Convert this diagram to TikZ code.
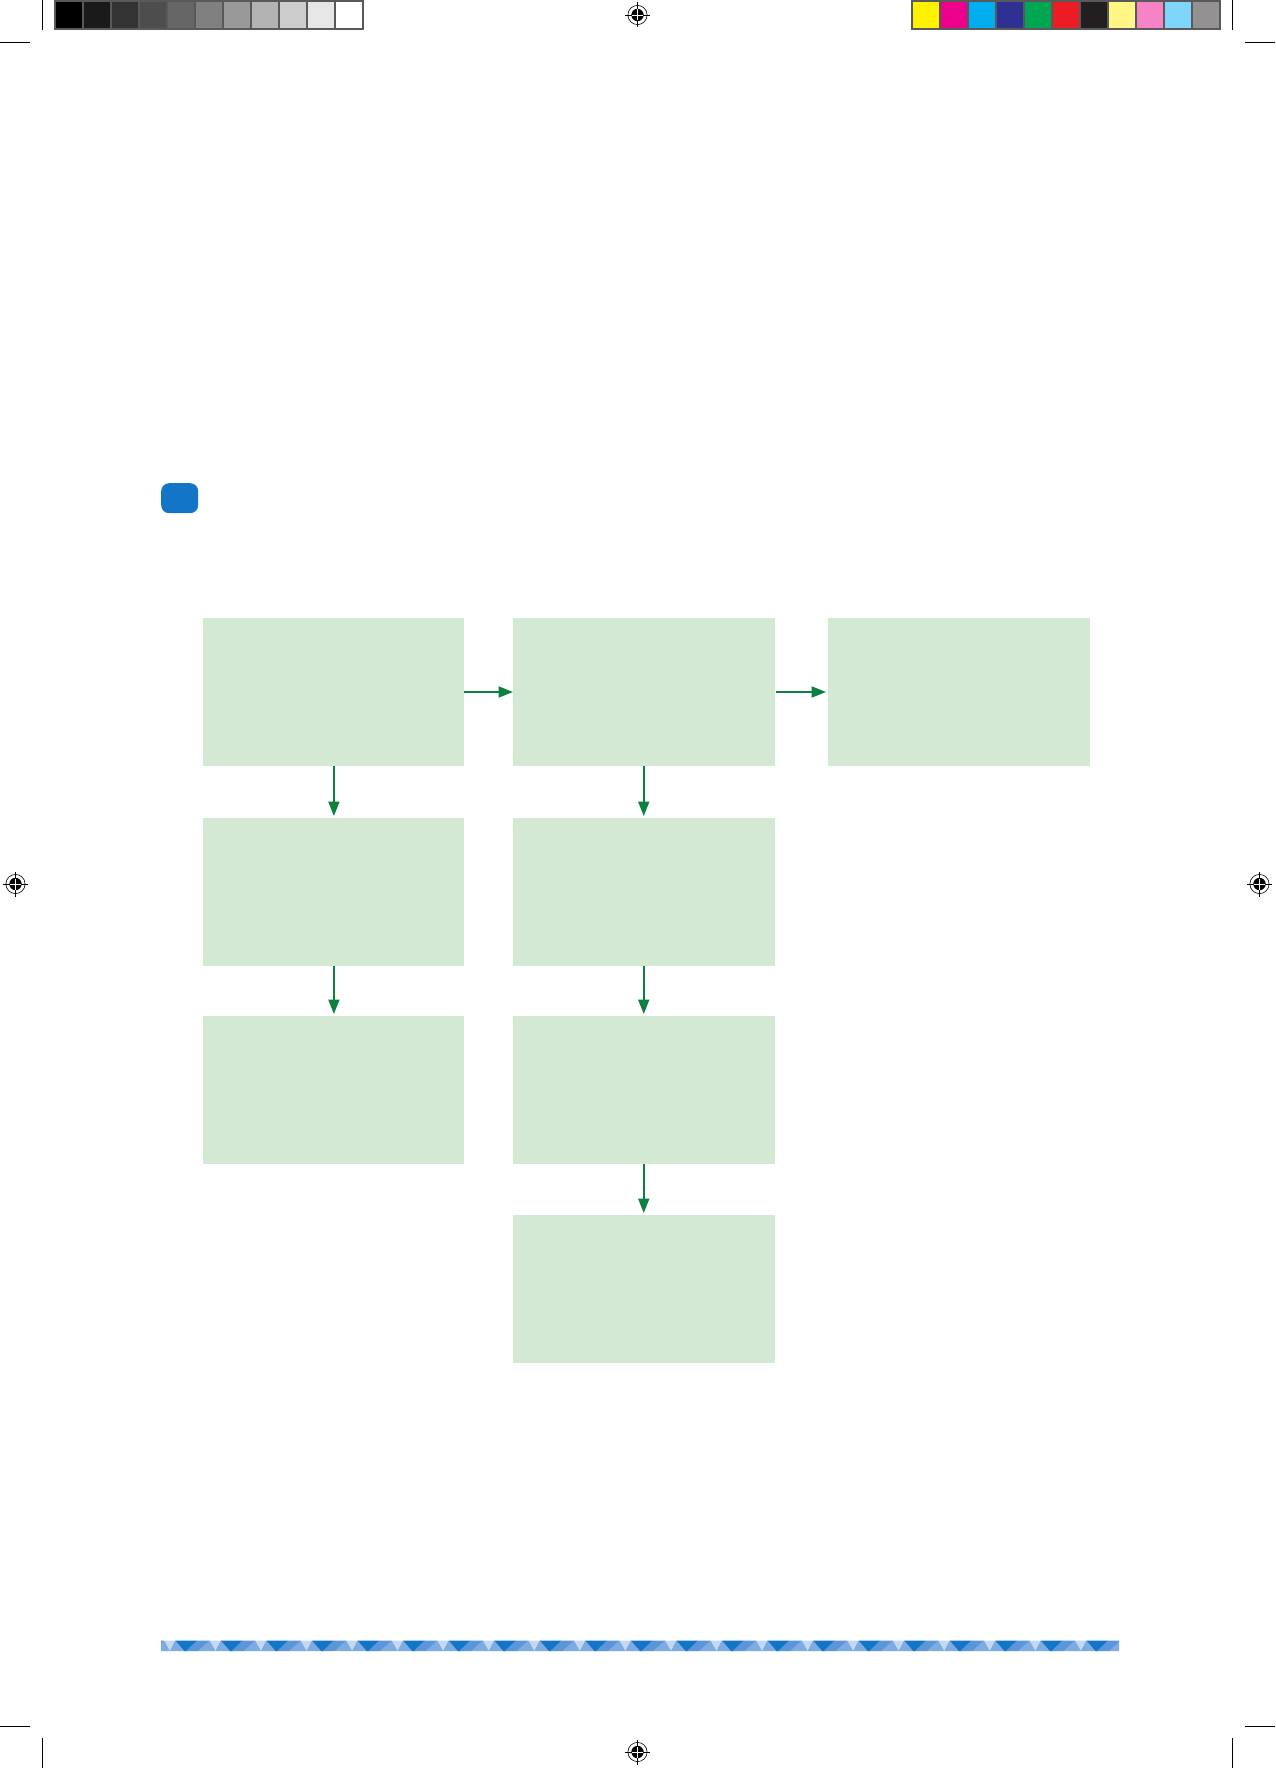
\documentclass[tikz,border=0pt]{standalone}
\usetikzlibrary{arrows.meta}
\definecolor{boxgreen}{HTML}{D4E9D3}
\definecolor{arrowgreen}{HTML}{0B8040}
\definecolor{framegray}{HTML}{58595B}
\definecolor{stripdark}{HTML}{1375C6}
\definecolor{stripmed}{HTML}{5B96D9}
\definecolor{striplight}{HTML}{7DABE2}
\definecolor{strippale}{HTML}{C5D8F2}
\tikzset{
  flowbox/.style={fill=boxgreen,draw=none,inner sep=0pt,outer sep=0pt,anchor=north west,minimum width=261.5pt,minimum height=148pt},
  leftbox/.style={flowbox,minimum width=260.6pt},
  flowarrow/.style={draw=arrowgreen,line width=1.9pt,-{Triangle[length=14.5pt,width=11pt,fill=arrowgreen]}},
  crop/.style={draw=black,line width=0.8pt},
  regmark/.pic={
    \draw[black,line width=0.6pt] (0,0) circle[radius=9.6];
    \fill[black] (0,0) circle[radius=6.2];
    \draw[black,line width=0.9pt] (-12.5,0) -- (12.5,0) (0,-12.5) -- (0,12.5);
    \draw[white,line width=0.3pt] (-5.5,0) -- (5.5,0) (0,-5.5) -- (0,5.5);
  }
}
\begin{document}
\begin{tikzpicture}[x=1pt,y=-1pt]
\useasboundingbox (0,0) rectangle (1276,1769);
\fill[white] (0,0) rectangle (1276,1769);
% grey ramp
\fill[framegray] (54,0) rectangle (364,30);
\foreach \i/\c in {0/000000,1/1A1A1A,2/333333,3/4D4D4D,4/666666,5/808080,6/999999,7/B3B3B3,8/CCCCCC,9/E6E6E6,10/FFFFFF}{
  \definecolor{swatch}{HTML}{\c}
  \fill[swatch] ({56+28*\i},2) rectangle ({82+28*\i},28);
}
% colour bar
\fill[framegray] (911,0) rectangle (1221,30);
\foreach \i/\c in {0/FFF200,1/EC008C,2/00AEEF,3/2E3192,4/00A651,5/ED1C24,6/231F20,7/FFF685,8/F683C6,9/7FD6FA,10/939191}{
  \definecolor{swatch}{HTML}{\c}
  \fill[swatch] ({913+28*\i},2) rectangle ({939+28*\i},28);
}
% crop marks
\draw[crop] (42.5,0) -- (42.5,30);
\draw[crop] (0,42.5) -- (30,42.5);
\draw[crop] (1232.5,0) -- (1232.5,30);
\draw[crop] (1245,42.5) -- (1275,42.5);
\draw[crop] (0,1726.5) -- (30,1726.5);
\draw[crop] (42.5,1738) -- (42.5,1768);
\draw[crop] (1245,1726.5) -- (1275,1726.5);
\draw[crop] (1232.5,1738) -- (1232.5,1768);
% registration marks
\pic at (637.5,15) {regmark};
\pic at (15.5,884) {regmark};
\pic at (1259.5,884) {regmark};
\pic at (637.5,1752) {regmark};
% blue tag
\node[fill=stripdark,draw=none,rounded corners=8pt,inner sep=0pt,minimum width=37pt,minimum height=30pt,anchor=north west] (tag) at (161,483) {};
% flow boxes
\node[leftbox] (a1) at (203,618) {};
\node[leftbox] (a2) at (203,818) {};
\node[leftbox] (a3) at (203,1016) {};
\node[flowbox] (b1) at (513,618) {};
\node[flowbox] (b2) at (513,818) {};
\node[flowbox] (b3) at (513,1016) {};
\node[flowbox] (b4) at (513,1215) {};
\node[flowbox] (c1) at (828,618) {};
% connectors
\draw[flowarrow] (a1.east) -- (b1.west);
\draw[flowarrow,shorten >=2pt] ([xshift=1pt]b1.east) -- (c1.west);
\draw[flowarrow,shorten >=2pt] ([xshift=0.6pt]a1.south) -- ([xshift=0.6pt]a2.north);
\draw[flowarrow,shorten >=2pt] ([xshift=0.6pt]a2.south) -- ([xshift=0.6pt]a3.north);
\draw[flowarrow,shorten >=2pt] (b1.south) -- (b2.north);
\draw[flowarrow,shorten >=2pt] (b2.south) -- (b3.north);
\draw[flowarrow,shorten >=2pt] (b3.south) -- (b4.north);
% bottom strip
\begin{scope}
\clip (161,1640.5) rectangle (1119,1651);
\fill[stripmed] (161,1640.5) rectangle (1119,1651);
\foreach \k in {-1,...,21}{
  \begin{scope}[xshift={45.55*\k}]
    \fill[strippale] (164,1640.5) -- (175.5,1640.5) -- (170,1651) -- cycle;
    \fill[striplight] (170,1651) -- (175.5,1640.5) -- (186,1651) -- cycle;
    \fill[stripdark] (175.5,1640.5) -- (197,1640.5) -- (187.5,1651) -- (184.5,1651) -- cycle;
    \fill[stripmed] (186,1651) -- (197,1640.5) -- (209.5,1640.5) -- (198,1651) -- cycle;
    \fill[striplight] (198,1651) -- (209.5,1640.5) -- (215.5,1651) -- cycle;
  \end{scope}
}
\end{scope}
\end{tikzpicture}
\end{document}
